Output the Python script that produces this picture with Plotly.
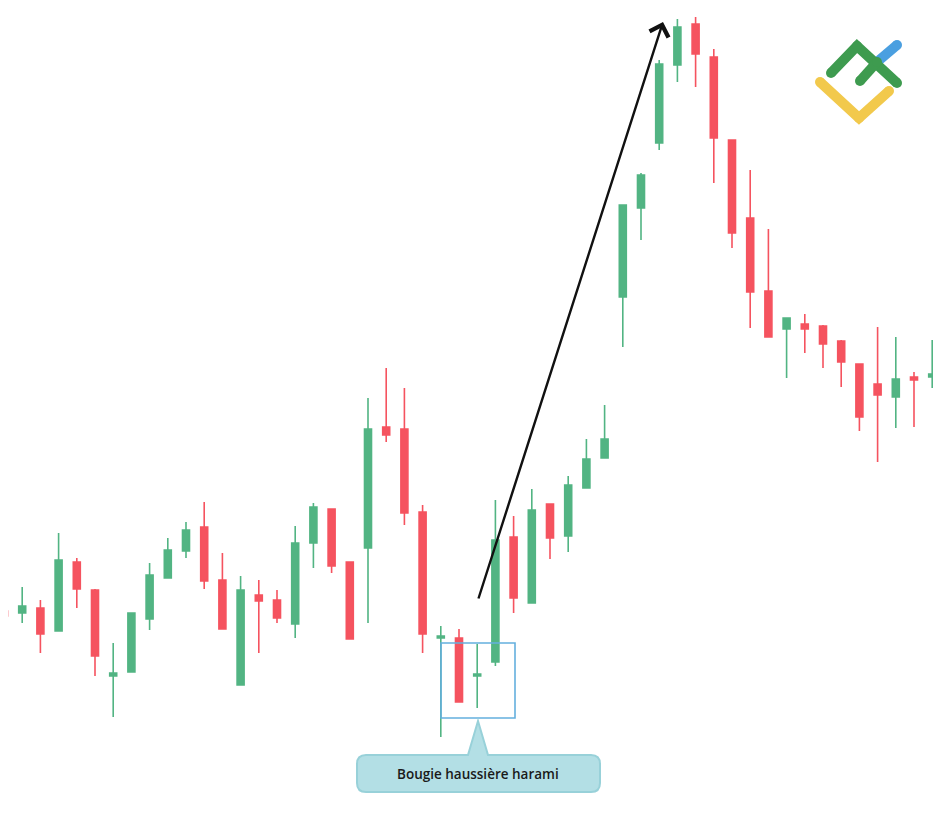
import plotly.graph_objects as go

# ---- data (price units) ----
idx = list(range(52))
opens  = [189, 187, 192, 169, 238, 210, 124, 128, 181, 222, 249, 273, 220, 115, 205, 200, 176, 257, 291, 238,
          252, 373, 371, 288, 162, 162, 124, 138, 263, 197, 296, 264, 312, 342, 503, 592, 657, 735, 776, 743,
          660, 582, 509, 471, 476, 474, 459, 436, 416, 403, 423, 423]
highs  = [232, 213, 200, 267, 242, 211, 157, 187, 237, 262, 278, 298, 247, 224, 220, 210, 274, 297, 291, 238,
          402, 432, 412, 295, 174, 171, 156, 300, 284, 311, 296, 324, 361, 395, 595, 627, 740, 781, 783, 751,
          660, 630, 571, 482, 486, 475, 460, 436, 473, 463, 428, 460]
lows   = [167, 177, 147, 169, 192, 124, 83, 128, 170, 222, 242, 211, 171, 115, 147, 177, 162, 232, 227, 161,
          177, 358, 275, 147, 63, 98, 92, 134, 187, 197, 241, 248, 312, 342, 453, 560, 650, 718, 713, 617,
          552, 472, 463, 422, 447, 432, 413, 369, 338, 372, 373, 412]
closes = [184, 194, 166, 240, 211, 144, 127, 187, 225, 250, 270, 219, 171, 210, 199, 182, 257, 293, 234, 161,
          371, 365, 287, 166, 164, 98, 126, 260, 202, 290, 262, 315, 341, 361, 595, 625, 736, 773, 746, 662,
          567, 508, 463, 482, 471, 456, 438, 383, 405, 421, 420, 426]

label_text = "Bougie haussière harami"

W, H = 941, 813
OFF = 8          # page body margin offset
STEP = 18.2
X0PX = 4


def xd(px):
    return (px - X0PX) / STEP


def yd(py):
    return 800 - py


GREEN = "#52B483"
RED = "#F5535F"

fig = go.Figure()
fig.add_trace(go.Candlestick(
    x=idx, open=opens, high=highs, low=lows, close=closes,
    increasing=dict(fillcolor=GREEN, line=dict(color=GREEN, width=1.6)),
    decreasing=dict(fillcolor=RED, line=dict(color=RED, width=1.6)),
    whiskerwidth=0, hoverinfo="skip", showlegend=False,
))

# logo strokes (LiteFinance style)
def stroke(pts, color, w=10):
    fig.add_trace(go.Scatter(
        x=[xd(p[0]) for p in pts], y=[yd(p[1]) for p in pts],
        mode="lines+markers", line=dict(color=color, width=w),
        marker=dict(color=color, size=w), hoverinfo="skip", showlegend=False,
    ))

stroke([(820, 82), (859, 118), (889, 91)], "#F2C94C")
stroke([(877, 62), (897, 45)], "#4A9FE0")
stroke([(831, 73), (857, 46), (897, 83)], "#3E9B4F")
stroke([(860, 81), (877, 62)], "#3E9B4F")

# callout path with pointer
def P(px, py):
    return f"{xd(px)},{yd(py)}"

L, R, T, B, r = 357, 600, 755, 792, 9
path = (f"M{P(L + r, T)} L{P(468, T)} L{P(478, 721)} L{P(488, T)} L{P(R - r, T)} "
        f"Q{P(R, T)} {P(R, T + r)} L{P(R, B - r)} Q{P(R, B)} {P(R - r, B)} "
        f"L{P(L + r, B)} Q{P(L, B)} {P(L, B - r)} L{P(L, T + r)} Q{P(L, T)} {P(L + r, T)} Z")

fig.update_layout(
    width=W, height=H,
    margin=dict(l=0, r=0, t=0, b=0),
    paper_bgcolor="white", plot_bgcolor="white",
    boxgap=0.45,
    xaxis=dict(range=[xd(OFF), xd(W + OFF)], visible=False, rangeslider=dict(visible=False), fixedrange=True),
    yaxis=dict(range=[yd(H + OFF), yd(OFF)], visible=False, fixedrange=True),
    shapes=[
        dict(type="rect", xref="x", yref="y", x0=xd(441), x1=xd(515), y0=yd(718), y1=yd(643),
             line=dict(color="#64B0DE", width=1.6), fillcolor="rgba(0,0,0,0)", layer="above"),
        dict(type="path", xref="x", yref="y", path=path,
             fillcolor="#B3DFE5", line=dict(color="#98D1D9", width=2), layer="above"),
    ],
    annotations=[
        dict(x=xd(663), y=yd(22), ax=xd(478), ay=yd(600), xref="x", yref="y", axref="x", ayref="y",
             text="", showarrow=True, arrowhead=4, arrowsize=1.6, arrowwidth=2.4,
             arrowcolor="#111111", standoff=0, startstandoff=0),
        dict(x=xd(478), y=yd(774), xref="x", yref="y", text=label_text, showarrow=False,
             font=dict(family="Open Sans, Lato, sans-serif", size=13.5, color="#1a1a1a", weight=600)),
    ],
    showlegend=False,
)

fig.write_html("out.html")
